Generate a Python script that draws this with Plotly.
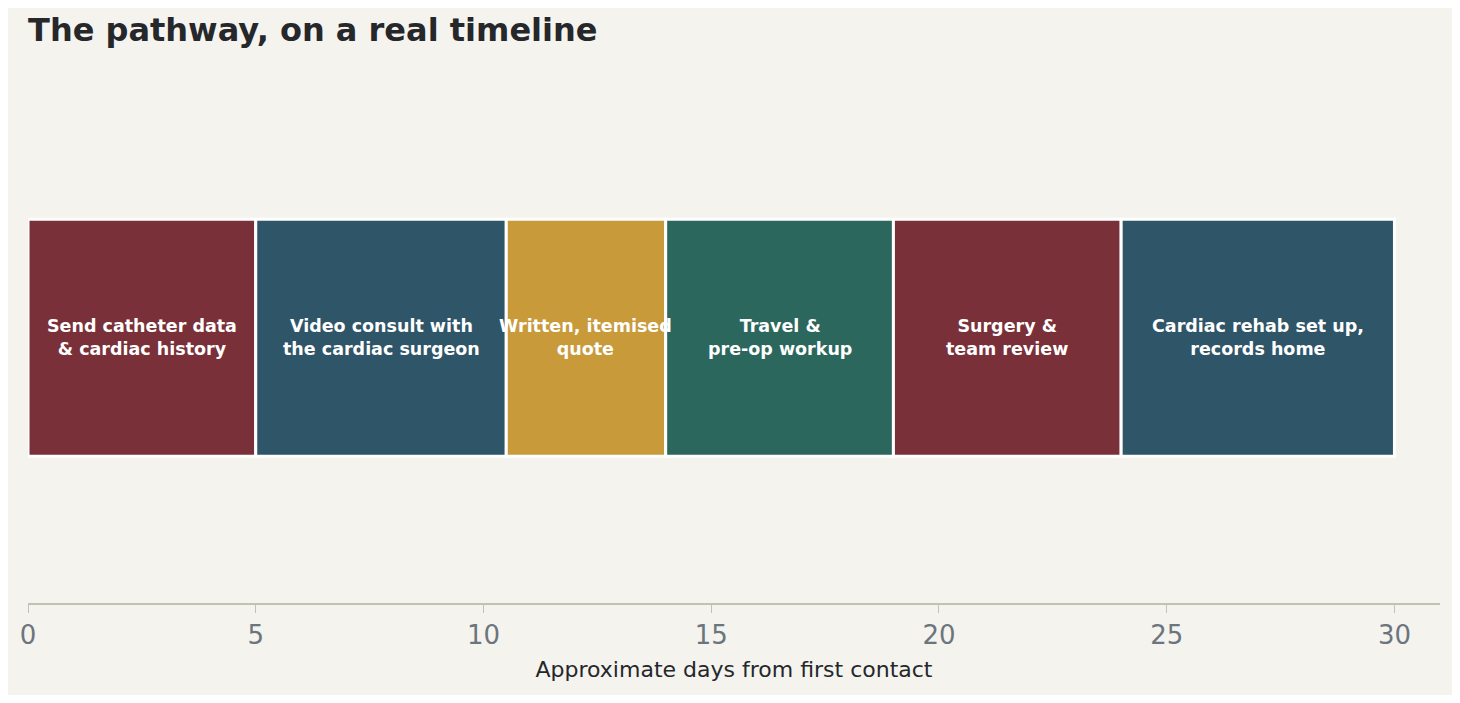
import plotly.graph_objects as go

labels = ["Send catheter data<br>& cardiac history", "Video consult with<br>the cardiac surgeon",
          "Written, itemised<br>quote", "Travel &<br>pre-op workup", "Surgery &<br>team review",
          "Cardiac rehab set up,<br>records home"]
starts = [0, 5, 10.5, 14, 19, 24]
durations = [5, 5.5, 3.5, 5, 5, 6]
colors = ["#7a3039", "#2f5568", "#c89a3a", "#2b675c", "#7a3039", "#2f5568"]

fig = go.Figure()
for lab, s, d, c in zip(labels, starts, durations, colors):
    fig.add_trace(go.Bar(
        x=[d], y=[0], base=[s], orientation="h", width=1,
        marker=dict(color=c, line=dict(color="#ffffff", width=3)),
        showlegend=False, hoverinfo="skip"))
    fig.add_annotation(x=s + d / 2, y=0, text=f"<b>{lab}</b>", showarrow=False,
                       font=dict(color="white", size=17.5, family="DejaVu Sans"))

fig.update_layout(
    width=1444, height=687, paper_bgcolor="#f4f3ee", plot_bgcolor="#f4f3ee",
    margin=dict(l=20, r=12, t=62, b=92), barmode="overlay",
    title=dict(text="<b>The pathway, on a real timeline</b>", x=0.0139, xanchor="left", y=0.985, yanchor="top",
               font=dict(size=32, color="#25272b", family="DejaVu Sans")),
    font=dict(family="DejaVu Sans"),
    xaxis=dict(range=[0, 31], tickvals=[0, 5, 10, 15, 20, 25, 30], showgrid=False, zeroline=False,
               showline=True, linecolor="#c2c2b0", linewidth=2, ticks="outside", tickcolor="#c2c2b0",
               ticklen=8, tickfont=dict(size=26, color="#6c757d"),
               title=dict(text="Approximate days from first contact", font=dict(size=22, color="#25272b"), standoff=12)),
    yaxis=dict(range=[-1.12, 1.13], visible=False),
)
fig.write_html("out.html")
